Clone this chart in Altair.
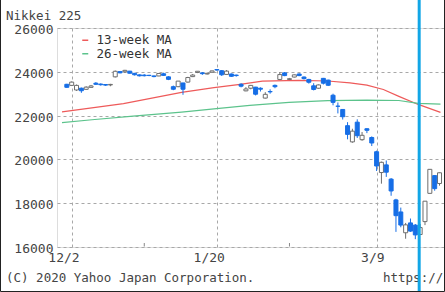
import altair as alt
import pandas as pd

# ---------------- data ----------------
dates = ["11/29", "12/2", "12/3", "12/4", "12/5", "12/6", "12/9", "12/10", "12/11", "12/12",
         "12/13", "12/16", "12/17", "12/18", "12/19", "12/20", "12/23", "12/24", "12/25", "12/26",
         "12/27", "12/30", "1/6", "1/7", "1/8", "1/9", "1/10", "1/14", "1/15", "1/16",
         "1/17", "1/20", "1/21", "1/22", "1/23", "1/24", "1/27", "1/28", "1/29", "1/30",
         "1/31", "2/3", "2/4", "2/5", "2/6", "2/7", "2/10", "2/12", "2/13", "2/14",
         "2/17", "2/18", "2/19", "2/20", "2/21", "2/25", "2/26", "2/27", "2/28", "3/2",
         "3/3", "3/4", "3/5", "3/6", "3/9", "3/10", "3/11", "3/12", "3/13", "3/16",
         "3/17", "3/18", "3/19", "3/23", "3/24", "3/25", "3/26", "3/27"]
opens = [23430, 23380, 23170, 23250, 23200, 23290, 23480, 23440, 23420, 23400,
         23770, 24010, 24000, 24030, 23930, 23860, 23850, 23840, 23810, 23810,
         23910, 23770, 23320, 23320, 23490, 23530, 23780, 23970, 23950, 23900,
         23980, 24100, 24050, 23880, 23900, 23850, 23430, 23130, 23250, 23300,
         23250, 22800, 23100, 23380, 23650, 23950, 23650, 23760, 23900, 23760,
         23650, 23360, 23250, 23700, 23620, 22930, 22430, 22280, 21540, 20800,
         21700, 20900, 21400, 21000, 20350, 19400, 19750, 19100, 18150, 17600,
         16650, 17100, 17000, 16570, 17160, 18450, 19260, 18900]
highs = [23450, 23560, 23420, 23280, 23340, 23400, 23530, 23470, 23440, 23450,
         24060, 24030, 24090, 24040, 23950, 23880, 23890, 23860, 23830, 23930,
         23960, 23800, 23370, 23580, 23500, 23770, 23900, 24030, 23990, 23950,
         24050, 24115, 24080, 24080, 23920, 23870, 23480, 23300, 23400, 23310,
         23290, 23070, 23200, 23420, 23990, 23990, 23720, 23880, 23930, 23790,
         23680, 23480, 23420, 23720, 23640, 23000, 22600, 22300, 21700, 21400,
         21830, 21250, 21420, 21050, 20400, 19900, 19950, 19150, 18200, 17800,
         17100, 17300, 17050, 17055, 18100, 19560, 19280, 19400]
lows = [23270, 23350, 23130, 23040, 23180, 23260, 23400, 23370, 23360, 23340,
        23740, 23930, 23960, 23920, 23830, 23790, 23790, 23800, 23750, 23800,
        23810, 23620, 23160, 23300, 22950, 23510, 23760, 23940, 23860, 23880,
        23960, 24050, 23810, 23870, 23770, 23780, 23290, 23110, 23200, 22920,
        23100, 22780, 23000, 23250, 23620, 23800, 23620, 23740, 23800, 23650,
        23460, 23150, 23230, 23420, 23350, 22470, 22100, 21820, 20916, 20760,
        20980, 20850, 21200, 20610, 19470, 18891, 19200, 18339, 16690, 16900,
        16378, 16690, 16358, 16570, 17000, 18440, 18570, 18800]
closes = [23293, 23529, 23379, 23135, 23300, 23354, 23430, 23410, 23391, 23424,
          24023, 23952, 24066, 23934, 23864, 23816, 23821, 23830, 23782, 23924,
          23837, 23656, 23204, 23575, 23204, 23739, 23850, 24025, 23916, 23933,
          24041, 24083, 23864, 24031, 23795, 23827, 23343, 23216, 23379, 22977,
          23205, 22971, 23084, 23320, 23873, 23827, 23685, 23861, 23827, 23687,
          23523, 23193, 23400, 23479, 23386, 22605, 22426, 21948, 21142, 21290,
          21082, 21100, 21329, 20749, 19698, 19867, 19416, 18559, 17431, 17002,
          17011, 16726, 16552, 16887, 18092, 19546, 18665, 19389]

# moving averages, read at trading-day positions (0 = 12/2)
ma13_pos = [-2, 10.7, 22.7, 29.4, 34.8, 39.4, 46.9, 52.9, 57.5, 61, 64.4, 67.6, 71.6, 76.2]
ma13_val = [22170, 22550, 23060, 23280, 23430, 23570, 23610, 23580, 23490, 23390, 23190, 22880, 22510, 22150]
ma26_pos = [-2, 4.2, 12.7, 22.7, 29.4, 36.8, 44.9, 52.9, 61, 67.6, 71.6, 76.2]
ma26_val = [21680, 21810, 21980, 22160, 22310, 22470, 22600, 22680, 22710, 22690, 22560, 22520]
ma_names = ["13-week MA", "26-week MA"]
ma_colors = ["#ee5a5a", "#5cc38c"]

tick_pos = [0, 30, 63]
tick_labels = ["12/2", "1/20", "3/9"]
minor_tick_pos = [15, 45]
y_ticks = [16000, 18000, 20000, 22000, 24000, 26000]
marker_pos = [71.8]

title_text = "Nikkei 225"
copyright_text = "(C) 2020 Yahoo Japan Corporation."
url_text = "https://"

# ---------------- tables ----------------
candles = pd.DataFrame({"date": dates, "open": opens, "high": highs, "low": lows, "close": closes})
candles["i"] = range(-1, len(dates) - 1)
candles["up"] = candles["close"] >= candles["open"]

ma = pd.concat([
    pd.DataFrame({"i": ma13_pos, "value": ma13_val, "series": ma_names[0]}),
    pd.DataFrame({"i": ma26_pos, "value": ma26_val, "series": ma_names[1]}),
])

FONT = "DejaVu Sans Mono"
UP_STROKE = "#6e6e6e"
DOWN = "#166ee6"

xscale = alt.Scale(domain=[-2, 76.1], nice=False, zero=False)
yscale = alt.Scale(domain=[16000, 26000], nice=False, zero=False)
xaxis = alt.Axis(values=tick_pos, labels=False, grid=True, gridDash=[3, 3],
                 gridColor="#a8a8a8", ticks=False, domain=False, title=None)
yaxis = alt.Axis(values=y_ticks, format="d", grid=True, gridDash=[3, 3], gridColor="#a8a8a8",
                 ticks=False, domain=False, labelPadding=4, labelOffset=1.5, labelFont=FONT,
                 labelFontSize=13, labelColor="#444", title=None)

X = alt.X("i:Q", scale=xscale, axis=xaxis)

ma_layer = alt.Chart(ma).mark_line(strokeWidth=1.2).encode(
    x=X,
    y=alt.Y("value:Q", scale=yscale, axis=yaxis),
    color=alt.Color("series:N", scale=alt.Scale(domain=ma_names, range=ma_colors),
                    legend=alt.Legend(orient="none", legendX=22, legendY=6, title=None,
                                      symbolType="stroke", symbolSize=36, symbolStrokeWidth=1.5,
                                      labelFont=FONT, labelFontSize=12.5, labelColor="#333",
                                      labelOffset=5, rowPadding=0.5, padding=0)),
    order="i:Q",
)

base = alt.Chart(candles)
up = base.transform_filter("datum.up")
down = base.transform_filter("!datum.up")

wick_up = up.mark_rule(color=UP_STROKE, strokeWidth=1).encode(
    x=X, y=alt.Y("low:Q", scale=yscale, axis=yaxis), y2="high:Q")
wick_down = down.mark_rule(color=DOWN, strokeWidth=1).encode(
    x=X, y=alt.Y("low:Q", scale=yscale, axis=yaxis), y2="high:Q")
body_up = up.mark_bar(size=4, fill="white", stroke=UP_STROKE, strokeWidth=1).encode(
    x=X, y=alt.Y("open:Q", scale=yscale, axis=yaxis), y2="close:Q")
body_down = down.mark_bar(size=4, fill=DOWN, stroke=DOWN, strokeWidth=1).encode(
    x=X, y=alt.Y("open:Q", scale=yscale, axis=yaxis), y2="close:Q")

minor = alt.Chart(pd.DataFrame({"i": minor_tick_pos})).mark_rule(color="#888").encode(
    x=X, y=alt.value(215), y2=alt.value(218.5))

xlabels = alt.Chart(pd.DataFrame({"i": tick_pos, "t": tick_labels})).mark_text(
    font=FONT, fontSize=13, color="#444", align="right", baseline="top", dx=8).encode(
    x=X, y=alt.value(224), text="t:N")

marker = alt.Chart(pd.DataFrame({"i": marker_pos})).mark_rule(color="#12a6e6", strokeWidth=3).encode(
    x=X, y=alt.value(-28), y2=alt.value(264))

def txt(s, x, y, color="#444", size=12.5):
    return alt.Chart(pd.DataFrame({"t": [s]})).mark_text(
        font=FONT, fontSize=size, color=color, align="left", baseline="alphabetic").encode(
        x=alt.value(x), y=alt.value(y), text="t:N")

title_l = txt(title_text, -51, -8)
copy_l = txt(copyright_text, -51, 253.5)
url_l = txt(url_text, 326, 253.5)

# image frame: left, right and bottom sides (top edge lies outside the picture)
border = alt.Chart(pd.DataFrame({"a": [0]})).mark_rect(filled=False, stroke="#222", strokeWidth=1).encode(
    x=alt.value(-56.5), x2=alt.value(387.5), y=alt.value(-40), y2=alt.value(263.5))

chart = alt.layer(
    minor, ma_layer, wick_up, wick_down, body_up, body_down, xlabels,
    title_l, copy_l, url_l, marker, border
).properties(
    width=388, height=219,
    padding={"left": 57, "top": 28, "right": 0, "bottom": 45},
    autosize=alt.AutoSizeParams(type="none"),
).configure_view(stroke="#9a9a9a", strokeWidth=1).configure(background="white")

chart.save("out.html", embed_options={"renderer": "svg", "actions": False})
